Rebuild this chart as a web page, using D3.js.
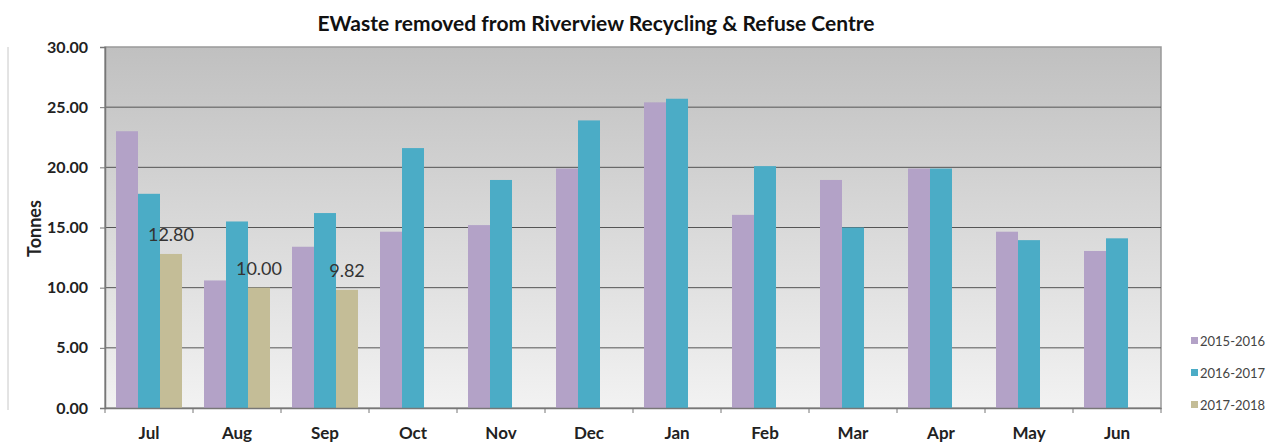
<!DOCTYPE html>
<html>
<head>
<meta charset="utf-8">
<script src="https://cdn.jsdelivr.net/npm/d3@7"></script>
<style>
  body { margin: 0; background: #fff; }
  text { font-family: Lato, "Open Sans", sans-serif; }
</style>
</head>
<body>
<div id="chart"></div>
<script>
// months and series values (tonnes)
var months = ["Jul", "Aug", "Sep", "Oct", "Nov", "Dec", "Jan", "Feb", "Mar", "Apr", "May", "Jun"];
var seriesNames = ["2015-2016", "2016-2017", "2017-2018"];
var y2015 = [23.0, 10.6, 13.4, 14.65, 15.2, 19.9, 25.4, 16.05, 18.95, 19.9, 14.65, 13.05];
var y2016 = [17.8, 15.5, 16.2, 21.6, 18.95, 23.9, 25.7, 20.1, 15.0, 19.9, 13.95, 14.1];
var y2017 = [12.80, 10.00, 9.82, null, null, null, null, null, null, null, null, null];
var yTicks = [0, 5, 10, 15, 20, 25, 30];
var colors = ["#b3a2c7", "#4bacc6", "#c4bd97"];

var W = 1278, H = 443;
var margin = {left: 105, right: 117, top: 47, bottom: 35};

var svg = d3.select("#chart").append("svg")
    .attr("width", W)
    .attr("height", H);

// background gradient of the plot area
var grad = svg.append("defs").append("linearGradient")
    .attr("id", "bg")
    .attr("x1", 0).attr("y1", 0).attr("x2", 0).attr("y2", 1);
grad.append("stop").attr("offset", "0%").attr("stop-color", "#c0c0c0");
grad.append("stop").attr("offset", "100%").attr("stop-color", "#f2f2f2");

var x = d3.scaleBand()
    .domain(months)
    .range([margin.left, W - margin.right]);

var xInner = d3.scaleBand()
    .domain(seriesNames)
    .range([0, x.bandwidth()])
    .paddingOuter(0.5);

var y = d3.scaleLinear()
    .domain([0, 30])
    .range([H - margin.bottom, margin.top]);

// thin border line on the far left
svg.append("line")
    .attr("x1", 8).attr("x2", 8)
    .attr("y1", y(30)).attr("y2", y(0) + 2)
    .attr("stroke", "#c8c8c8");

svg.append("rect")
    .attr("x", margin.left)
    .attr("y", y(30))
    .attr("width", W - margin.right - margin.left)
    .attr("height", y(0) - y(30))
    .attr("fill", "url(#bg)")
    .attr("stroke", "#999")
    .attr("stroke-width", 1.5);

// gridlines
svg.append("g")
  .selectAll("line")
  .data(yTicks.filter(function(d) { return d > 0 && d < 30; }))
  .enter().append("line")
    .attr("x1", margin.left)
    .attr("x2", W - margin.right)
    .attr("y1", function(d) { return y(d); })
    .attr("y2", function(d) { return y(d); })
    .attr("stroke", "#555")
    .attr("stroke-width", 1);

// bars
var series = [y2015, y2016, y2017];
series.forEach(function(vals, s) {
    svg.append("g")
      .selectAll("rect")
      .data(vals.map(function(v, i) { return {m: months[i], v: v}; })
                .filter(function(d) { return d.v != null; }))
      .enter().append("rect")
        .attr("x", function(d) { return x(d.m) + xInner(seriesNames[s]); })
        .attr("y", function(d) { return y(d.v); })
        .attr("width", xInner.bandwidth())
        .attr("height", function(d) { return y(0) - y(d.v); })
        .attr("fill", colors[s]);
});

// data labels on 2017-2018
svg.append("g")
  .selectAll("text")
  .data(y2017.map(function(v, i) { return {m: months[i], v: v}; })
             .filter(function(d) { return d.v != null; }))
  .enter().append("text")
    .attr("x", function(d) { return x(d.m) + xInner(seriesNames[2]) + xInner.bandwidth() / 2; })
    .attr("y", function(d) { return y(d.v) - 13; })
    .attr("text-anchor", "middle")
    .attr("font-size", 18)
    .attr("fill", "#333")
    .text(function(d) { return d.v.toFixed(2); });

// y axis
var yAxis = svg.append("g")
    .attr("transform", "translate(" + margin.left + ",0)")
    .call(d3.axisLeft(y).tickValues(yTicks).tickSize(5).tickPadding(12)
        .tickFormat(function(d) { return d.toFixed(2); }));
yAxis.select(".domain").attr("stroke", "#777").attr("stroke-width", 1.5);
yAxis.selectAll(".tick line").attr("stroke", "#777");
yAxis.selectAll("text")
    .attr("font-size", 16)
    .attr("font-weight", "bold")
    .attr("fill", "#222");

// x axis
var xAxis = svg.append("g")
    .attr("transform", "translate(0," + y(0) + ")")
    .call(d3.axisBottom(x).tickSize(0).tickPadding(19));
xAxis.select(".domain").attr("stroke", "#777").attr("stroke-width", 1.5);
xAxis.selectAll("text")
    .attr("font-size", 17)
    .attr("font-weight", "bold")
    .attr("fill", "#222");
// category separator ticks
svg.append("g")
  .selectAll("line")
  .data(months.concat(["end"]))
  .enter().append("line")
    .attr("x1", function(d, i) { return margin.left + i * x.step(); })
    .attr("x2", function(d, i) { return margin.left + i * x.step(); })
    .attr("y1", y(0))
    .attr("y2", y(0) + 5)
    .attr("stroke", "#777");

// axis title
svg.append("text")
    .attr("transform", "translate(41," + ((y(0) + y(30)) / 2 + 1) + ") rotate(-90)")
    .attr("text-anchor", "middle")
    .attr("font-size", 18)
    .attr("font-weight", "bold")
    .attr("fill", "#222")
    .text("Tonnes");

// chart title
svg.append("text")
    .attr("x", 596)
    .attr("y", 31)
    .attr("text-anchor", "middle")
    .attr("font-size", 21)
    .attr("font-weight", "bold")
    .attr("fill", "#111")
    .text("EWaste removed from Riverview Recycling & Refuse Centre");

// legend
var legend = svg.append("g")
    .selectAll("g")
    .data(seriesNames)
    .enter().append("g")
    .attr("transform", function(d, i) { return "translate(1191," + (341 + i * 32) + ")"; });
legend.append("rect")
    .attr("x", 0).attr("y", -4)
    .attr("width", 7).attr("height", 7)
    .attr("fill", function(d, i) { return colors[i]; });
legend.append("text")
    .attr("x", 9)
    .attr("y", 5)
    .attr("font-size", 13)
    .attr("fill", "#444")
    .text(function(d) { return d; });
</script>
</body>
</html>
